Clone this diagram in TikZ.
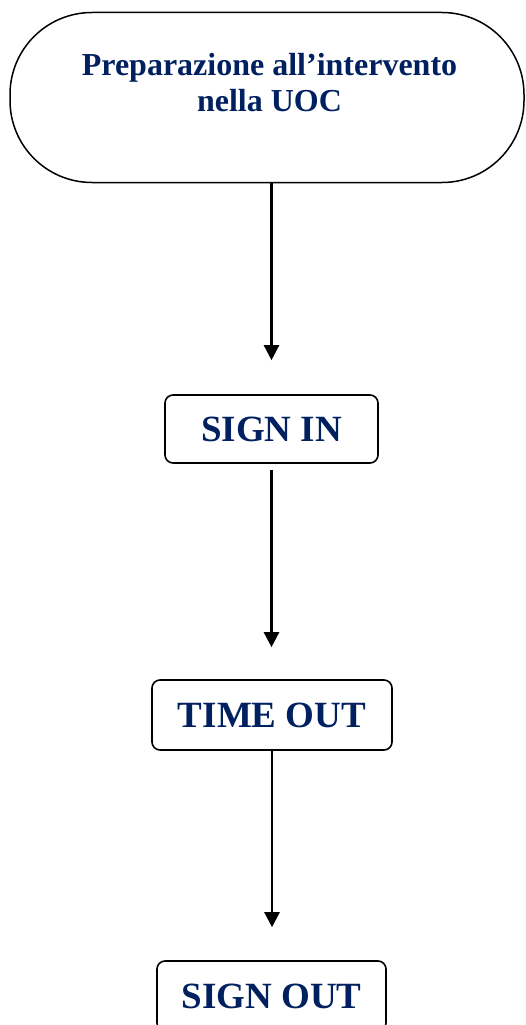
\documentclass[tikz,border=0pt]{standalone}
\usepackage{fontspec}
\setmainfont{Liberation Serif}
\usetikzlibrary{arrows.meta}
\definecolor{navy}{RGB}{0,32,96}
\begin{document}
\begin{tikzpicture}[x=1pt,y=-1pt,
  stepbox/.style={draw, line width=1.6pt, rounded corners=8pt, text=navy,
    font=\fontsize{37}{42}\selectfont\bfseries, inner sep=0pt, anchor=center},
  titletext/.style={text=navy, font=\fontsize{32}{37}\selectfont\bfseries, inner sep=0pt, anchor=base},
  arr/.style={line width=2.4pt, -{Triangle[length=15pt,width=15pt]}}]
\useasboundingbox (0,0) rectangle (526,1025);
\node[draw, line width=1.5pt, rounded corners=82pt, minimum width=514pt, minimum height=170pt, inner sep=0pt] (start) at (267,97.5) {};
\node[titletext] (t1) at (269.5,75) {Preparazione all’intervento};
\node[titletext] (t2) at (269.5,111.5) {nella UOC};
\node[stepbox, minimum width=213pt, minimum height=68pt] (signin) at (271.5,429) {SIGN IN};
\node[stepbox, minimum width=240pt, minimum height=70pt] (timeout) at (272,715) {TIME OUT};
\node[stepbox, minimum width=229pt, minimum height=70pt] (signout) at (271.5,996) {SIGN OUT};
\draw[arr, shorten >=34pt] (start.south -| signin.north) -- (signin.north);
\draw[arr, shorten <=6pt, shorten >=32pt] (signin.south) -- (signin.south |- timeout.north);
\draw[arr, shorten >=33pt] (timeout.south) -- (timeout.south |- signout.north);
\end{tikzpicture}
\end{document}
